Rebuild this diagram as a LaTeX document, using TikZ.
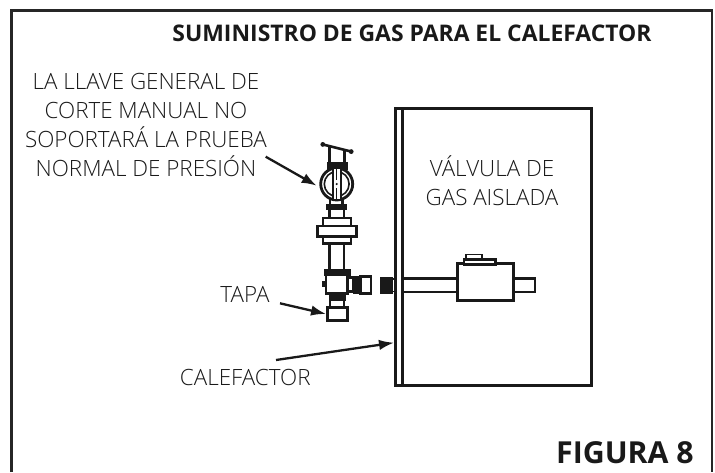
\documentclass[tikz,border=0pt]{standalone}
\usepackage{fontspec}
\setmainfont{Open Sans}
\newfontfamily\lightf{Open Sans Light}
\usetikzlibrary{arrows.meta}
\begin{document}
\begin{tikzpicture}[x=1pt,y=-1pt,
 part/.style={draw=black!90,line width=2.5pt,fill=white},
 blk/.style={draw=black!90,line width=.8pt,fill=black!90},
 frm/.style={draw=black!85,line width=2.8pt},
 lbl/.style={font=\lightf\fontsize{22.4}{29}\selectfont,text=black!90,align=center,inner sep=0pt},
 ttl/.style={font=\fontsize{22.9}{26}\selectfont\bfseries,text=black!90,inner sep=0pt},
 ldr/.style={draw=black!90,line width=2.3pt,-{Latex[length=15pt,width=10.5pt]}}]
\useasboundingbox (0,0) rectangle (715,472);
\draw[frm] (11.5,472) -- (11.5,10.5) -- (712,10.5) -- (712,472);
\node[ttl] (title) at (412,33) {SUMINISTRO DE GAS PARA EL CALEFACTOR};
\node[ttl,font=\fontsize{30.3}{32}\selectfont\bfseries] (fig) at (625,453) {FIGURA 8};
% cabinet
\draw[part,line width=3pt,fill=none] (395,108) rectangle (591,385.5);
\draw[part,line width=3pt] (402.5,108) -- (402.5,385.5);
\node[lbl] (v) at (492,181) {VÁLVULA DE\\GAS AISLADA};
% horizontal pipe and gas valve
\draw[part] (403,278.3) -- (457.3,278.3) (403,292) -- (457.3,292);
\draw[part] (513.3,278.3) rectangle (535,292);
\draw[part] (457.3,263.3) rectangle (513.3,300.7);
\node[part,inner sep=0pt,minimum width=31.7pt,minimum height=5pt] (plate) at (479.8,261.8) {};
\draw[part,line width=1.7pt] (466,254.5) rectangle (481.7,259);
\draw[blk] (380.7,277.7) rectangle (392.7,293.3);
\draw[part,line width=1.2pt] (392.7,279) rectangle (395,291.7);
% top fitting
\draw[part,fill=none] (329.3,147) -- (329.3,163) (344.3,151) -- (344.3,163);
\draw[draw=black!90,line width=2.6pt] (322.3,144.3) -- (351.7,151.7);
\fill[black!90] (322.8,144.4) circle (2.4pt) (351.2,151.6) circle (2.4pt);
\draw[blk] (327.3,162.7) rectangle (347.3,169.3);
% main valve
\draw[part] (330,195) rectangle (342.7,205);
\draw[part,line width=2.8pt] (336.7,184) circle (16pt);
\draw[part,line width=1.6pt] (336.7,184) circle (12.4pt);
\draw[part,line width=1.8pt] (333,168.5) rectangle (340.7,199.5);
\fill[black!90] (336.7,184) circle (1.2pt);
\draw[part,line width=1.2pt] (336.7,169) -- (336.7,180) (336.7,188) -- (336.7,199);
\draw[blk] (326.7,204.5) rectangle (346.7,209);
% union
\draw[part] (329.3,209) -- (329.3,218) (344,209) -- (344,218);
\draw[part] (323,218) rectangle (351,243.3);
\draw[part] (317.7,226) rectangle (356.7,236.7);
\draw[part] (329.3,243.3) -- (329.3,269.3) (344,243.3) -- (344,269.3);
% tee
\draw[part] (347.3,277.7) rectangle (353.3,291.7);
\draw[part] (360.7,276.3) rectangle (371,293.3);
\draw[blk] (353.3,276.5) rectangle (360.7,293.3);
\draw[blk] (322.3,281) rectangle (326.7,286);
\draw[part] (326,275) rectangle (347.3,293.3);
\draw[blk] (324.3,269.3) rectangle (350,275);
\draw[blk] (329.3,293.3) rectangle (345,300);
\draw[part,line width=1.7pt] (330,300) rectangle (344,307);
\node[part,inner sep=0pt,minimum width=20pt,minimum height=13.4pt] (cap) at (337.3,314) {};
\coordinate (valveL) at (316.7,185.7);
\coordinate (cabL) at (394,342.7);
% labels and leaders
\node[lbl] (llave) at (146,125) {LA LLAVE GENERAL DE\\CORTE MANUAL NO\\SOPORTARÁ LA PRUEBA\\NORMAL DE PRESIÓN};
\node[lbl] (tapa) at (245,294) {TAPA};
\node[lbl] (cal) at (245.3,377) {CALEFACTOR};
\coordinate (s1) at (265.7,156.7);
\coordinate (s2) at (280,303.3);
\coordinate (s3) at (276,360);
\draw[ldr] (s1) -- (valveL);
\draw[ldr] (s2) -- (cap.west);
\draw[ldr] (s3) -- (cabL);
\end{tikzpicture}
\end{document}
